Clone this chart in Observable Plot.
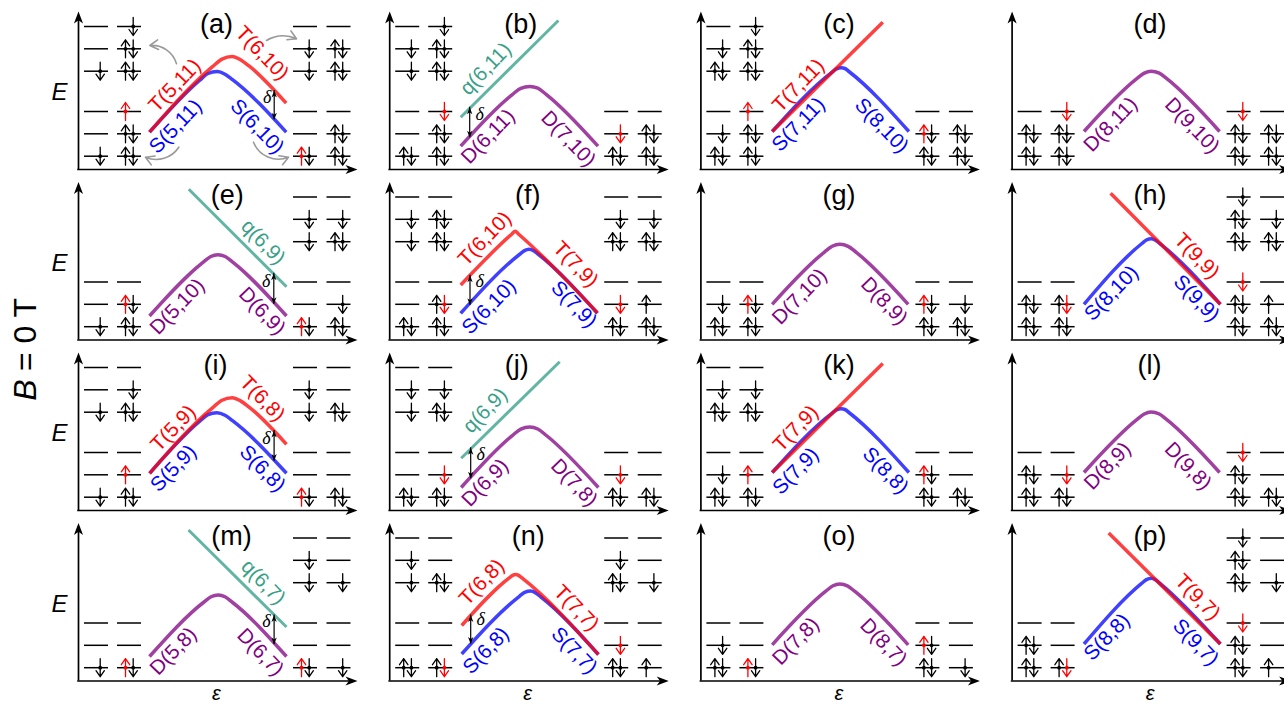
<!DOCTYPE html>
<html><head><meta charset="utf-8">
<script src="https://cdn.jsdelivr.net/npm/d3@7"></script>
<script src="https://cdn.jsdelivr.net/npm/@observablehq/plot@0.6"></script>
<style>html,body{margin:0;background:#fff}svg{display:block}</style>
</head><body><div id="chart"></div>
<script>
const panelNames = ["a","b","c","d","e","f","g","h","i","j","k","l","m","n","o","p"];
const levelE = [143,120.7,98.3,58,35.7,13.3];
const columnEps = [18,51,227,260.5];

// occupation of each dot level: columns left to right, levels top to bottom
// "-" no level, "." empty, u/d black spin, U/D red spin
const occ_a = [". . d . . d","d ud ud U ud ud",". d d . . Ud",". ud ud . ud ud"];
const occ_b = [". d d . . ud","d ud ud D ud ud","- - - . D ud","- - - . ud ud"];
const occ_c = [". d ud . d ud","d ud ud U ud ud","- - - . Ud ud","- - - . ud ud"];
const occ_d = ["- - - . ud ud","- - - D ud ud","- - - D ud ud","- - - . ud ud"];
const occ_e = ["- - - . . d","- - - . Ud ud",". d d . . Ud",". d ud . d ud"];
const occ_f = [". d d . . ud",". ud ud . uD ud",". d ud . D ud",". d ud . u ud"];
const occ_g = ["- - - . d ud","- - - . Ud ud","- - - . Ud ud","- - - . d ud"];
const occ_h = ["- - - . ud ud","- - - . uD ud","d ud ud D ud ud",". d ud . u ud"];
const occ_i = [". . d . . d",". d ud . U ud",". d d . . Ud",". . ud . . ud"];
const occ_j = [". d d . . ud",". d ud . D ud","- - - . D ud","- - - . . ud"];
const occ_k = [". d ud . d ud",". d ud . U ud","- - - . Ud ud","- - - . . ud"];
const occ_l = ["- - - . ud ud","- - - . D ud","- - - D ud ud","- - - . . ud"];
const occ_m = ["- - - . . d","- - - . . Ud",". d d . . Ud",". . d . . d"];
const occ_n = [". d d . . ud",". . ud . . uD",". d ud . D ud",". . d . . u"];
const occ_o = ["- - - . d ud","- - - . . Ud","- - - . Ud ud","- - - . . d"];
const occ_p = ["- - - . ud ud","- - - . . uD","d ud ud D ud ud",". . d . . u"];
const occupancy = [occ_a,occ_b,occ_c,occ_d,occ_e,occ_f,occ_g,occ_h,occ_i,occ_j,occ_k,occ_l,occ_m,occ_n,occ_o,occ_p];

// energy curves: [epsilon, E]
const a_S = [[71,37.3],[121,89],[129.5,96],[138.7,98],[146.5,95.3],[154,89.9],[207.7,37.3]];
const a_T = [[71,37.3],[134,102.8],[143.5,110.4],[153.7,113],[162,109.7],[170.2,103.8],[207.7,66.3]];
const b_D = [[71,23.3],[122.6,74.9],[131.1,81.2],[140,83],[148.1,81.3],[156.7,74.9],[208.3,23.3]];
const b_q = [[71,52.3],[168.7,149]];
const c_S = [[71.3,38],[131.6,97.7],[135.7,100.7],[140.3,101.7],[144,101],[148,98],[208,38]];
const c_T = [[71.3,38],[181.9,147.3]];
const d_D = [[71.9,38],[124.7,90.8],[132.2,96.4],[139,98.3],[147.2,96.4],[154.7,90.8],[207.5,38]];
const e_D = [[71,24],[125.1,78.1],[132.3,83.5],[139.3,85.3],[146.7,83.5],[153.9,78.1],[208,24]];
const e_q = [[110.3,150.7],[208,53.3]];
const f_S = [[71,26.7],[130.3,86],[134.8,89.4],[139.3,90.7],[143.8,89.4],[148.3,86],[207.7,26.7]];
const f_T = [[71,55],[122,105.8],[125.5,108.8],[129,105.8],[207.7,27.3]];
const g_D = [[71.3,35.7],[123.3,87.7],[131.3,93.7],[139,95.7],[147.3,93.7],[155.3,87.7],[207.3,35.7]];
const h_S = [[71.9,35.7],[129.8,96.5],[134.3,100],[139.4,101.3],[143.3,99.8],[147.8,96.4],[208.3,35.7]];
const h_T = [[98.5,146.7],[208.3,35.7]];
const i_S = [[71.1,37.2],[121,89],[129.5,95.8],[138.4,97.8],[146.5,95.2],[154,89.8],[208,37.2]];
const i_T = [[71.1,37.2],[134,102.7],[143.5,110.2],[153.7,112.8],[162,109.6],[170.2,103.7],[208,66.2]];
const j_D = [[71.5,23],[122.6,74.9],[131.1,81.4],[140,83.5],[148.1,81.5],[156.7,75],[208.7,23]];
const j_q = [[71.5,52.2],[170,148.8]];
const k_S = [[71.3,38],[131.6,97.7],[135.7,100.7],[140.3,101.7],[144,101],[148,98],[208,38]];
const k_T = [[71.3,38],[181.9,147]];
const l_D = [[71.9,38],[124.7,90.8],[132.2,96.5],[139,98.5],[147.2,96.5],[154.7,90.8],[207.5,38]];
const m_D = [[71,24.5],[125.5,79],[132.5,84.2],[139.8,86],[146.5,84.2],[153.5,79],[208,24.5]];
const m_q = [[110,151],[208,54]];
const n_S = [[72,27],[129.7,84.7],[135,88.7],[141,90],[145.6,88.3],[151,84.2],[208.7,26.5]];
const n_T = [[72,55.5],[119.9,103.4],[122.9,105.6],[125.8,106.5],[128.9,105.6],[131.9,103.3],[208.7,26.5]];
const o_D = [[71.3,36.2],[124.9,89.8],[132.1,95.2],[139,97],[146.5,95.2],[153.7,89.8],[207.3,36.2]];
const p_S = [[71.9,37],[129.8,97.8],[134.3,101.4],[139.4,102.8],[143.3,101.3],[147.8,97.7],[208.3,37]];
const p_T = [[96.6,148],[208.3,37]];
const curveList = [
  ["a","S",a_S],["a","T",a_T],["b","D",b_D],["b","q",b_q],["c","S",c_S],["c","T",c_T],["d","D",d_D],
  ["e","D",e_D],["e","q",e_q],["f","S",f_S],["f","T",f_T],["g","D",g_D],["h","S",h_S],["h","T",h_T],
  ["i","S",i_S],["i","T",i_T],["j","D",j_D],["j","q",j_q],["k","S",k_S],["k","T",k_T],["l","D",l_D],
  ["m","D",m_D],["m","q",m_q],["n","S",n_S],["n","T",n_T],["o","D",o_D],["p","S",p_S],["p","T",p_T]
];

// state labels: [panel, text, epsilon, E]
const stateLabels = [
  ["a","T(5,11)",96.3,84],["a","S(5,11)",97,43],["a","T(6,10)",183.7,116.3],["a","S(6,10)",178.7,43],
  ["b","q(6,11)",96,100.7],["b","D(6,11)",98.3,33],["b","D(7,10)",178.7,30.7],
  ["c","T(7,11)",97.5,84],["c","S(7,11)",97.5,45],["c","S(8,10)",180.8,44],
  ["d","D(8,11)",98.5,45],["d","D(9,10)",180,44],
  ["e","q(6,9)",184.7,98],["e","D(5,10)",98.7,33.3],["e","D(6,9)",183.7,29],
  ["f","T(6,10)",95,101.3],["f","S(6,10)",99.3,33.3],["f","T(7,9)",186,75.7],["f","S(7,9)",184.3,35.7],
  ["g","D(7,10)",98.6,43.3],["g","D(8,9)",183.4,39],
  ["h","T(9,9)",184.8,84],["h","S(8,10)",99.2,46.7],["h","S(9,9)",184.4,41.7],
  ["i","T(5,9)",94.8,82.2],["i","S(5,9)",94.8,42.2],["i","T(6,8)",184,112],["i","S(6,8)",184,42],
  ["j","q(6,9)",95.4,100],["j","D(6,9)",95.4,27.8],["j","D(7,8)",184.6,27.8],
  ["k","T(7,9)",94.8,82],["k","S(7,9)",94.8,39.5],["k","S(8,8)",184.6,40],
  ["l","D(8,9)",95.4,44.5],["l","D(9,8)",176,44.5],
  ["m","q(6,7)",184.8,98.8],["m","D(5,8)",94.8,29.8],["m","D(6,7)",182,28.8],
  ["n","T(6,8)",92,98.8],["n","S(6,8)",96.3,30.5],["n","T(7,7)",186.7,73],["n","S(7,7)",184.6,30.5],
  ["o","D(7,8)",94.8,39.8],["o","D(8,7)",182.7,38.8],
  ["p","T(9,7)",185.6,83.8],["p","S(8,8)",94.7,43.8],["p","S(9,7)",183.7,38.8]
];

// panel letter position: epsilon of each panel's letter
const letterEps = [138,131,138,138, 148.7,138,138,138, 137,127,138,137.5, 153,138.5,138,138];
const letterE = 145;

// delta gaps: [panel, epsilon, E top, E bottom, text epsilon, text E]
const deltaGaps = [
  ["a",195.7,79,49.7,188.7,72.3],["b",80,62.3,31.7,90,55.7],["e",195.3,66.7,35.7,187.7,59],["f",80.3,64.7,34.7,90,59],
  ["i",195.6,80,49.5,188,72.2],["j",81,62.8,31.8,91,56.2],["m",195.6,66,36.5,188,59.5],["n",81,66,37,91,61.5]
];

// grey curved arrows in panel (a): [eps1, E1, eps2, E2, bend]
const greyArrows = [[98,105.7,71.3,124,-40],[188,129,218,130.7,28],[100.3,22.3,67,12.3,40],[175,27.3,210,12.3,-45]];

const colours = {T:"#ff0000",S:"#0000ff",D:"#800080",q:"#3a9f88"};
const lineColours = {T:"#ff0000",S:"#0000ff",D:"#800080",q:"#2f9c84"};
const axisTop = 158, axisRight = 279;

const place = p => { const i = panelNames.indexOf(p); return {col:i%4,row:Math.floor(i/4)}; };
const allPanels = panelNames.map(p=>({panel:p,...place(p)}));

const levels=[], spins=[];
occupancy.forEach((panel,pi)=>{
  const col=pi%4,row=Math.floor(pi/4);
  panel.forEach((str,c)=>str.split(" ").forEach((tok,l)=>{
    if(tok==="-")return;
    levels.push({col,row,e:columnEps[c],E:levelE[l]});
    if(tok===".")return;
    for(const ch of tok){
      const up=ch==="u"||ch==="U", red=ch==="U"||ch==="D";
      spins.push({col,row,red,up,e:columnEps[c]+(up?-4:3.7),E:levelE[l]});
    }
  }));
});
const curveRows=[];
curveList.forEach(([p,k,pts])=>pts.forEach(([e,E])=>curveRows.push({...place(p),id:p+k,kind:k,e,E})));
const labelRows=stateLabels.map(([p,t,e,E])=>({...place(p),t,e,E,kind:t[0],rot:e<138?-46:46}));
const deltaRows=deltaGaps.map(([p,e,top,bot,te,tE])=>({...place(p),e,top,bot,te,tE}));
const letterRows=allPanels.map((d,i)=>({...d,t:`(${d.panel})`,e:letterEps[i]}));
const greyRows=greyArrows.map(([e1,E1,e2,E2,bend])=>({col:0,row:0,e1,E1,e2,E2,bend}));
const col0=allPanels.filter(d=>d.col===0), row3=allPanels.filter(d=>d.row===3);

const stealth = {draw(ctx,l){const w=l*0.38;ctx.moveTo(0,-l);ctx.lineTo(w,0);ctx.lineTo(0,-l*0.28);ctx.lineTo(-w,0);ctx.closePath();}};
const spinArrow = {draw(ctx,l){ctx.moveTo(0,0);ctx.lineTo(0,-l);ctx.moveTo(-4.2,-l+6);ctx.lineTo(0,-l);ctx.lineTo(4.2,-l+6);}};
const face=(k,o)=>({fx:"col",fy:"row",...o});

const lineMark=k=>Plot.line(curveRows.filter(d=>d.kind===k),face(k,{x:"e",y:"E",z:"id",stroke:lineColours[k],strokeOpacity:0.75,
  strokeWidth:k==="q"?3:3.5,curve:"monotone-x",strokeLinecap:"butt",strokeLinejoin:"round"}));
const labelMark=k=>Plot.text(labelRows.filter(d=>d.kind===k),face(k,{x:"e",y:"E",text:"t",rotate:"rot",fill:colours[k],fontSize:20.5}));
const spinMarks=(red)=>{
  const s=spins.filter(d=>d.red===red), c=red?"#ff0000":"#000";
  return [
    Plot.vector(s,face(0,{x:"e",y:"E",rotate:d=>d.up?0:180,length:18,shape:spinArrow,anchor:"middle",stroke:c,strokeWidth:1.3})),
    Plot.dot(s,face(0,{x:"e",y:"E",r:1.9,fill:c,stroke:"none"}))
  ];
};

const chart=Plot.plot({
  width:1284,height:704,margin:0,
  style:{fontFamily:"'Liberation Sans',Arial,sans-serif",background:"#fff",overflow:"hidden"},
  fx:{domain:[0,1,2,3],range:[0,1244.8],padding:0,round:false,axis:null},
  fy:{domain:[0,1,2,3],range:[0,682],padding:0,round:false,axis:null},
  x:{domain:[-78,233.2],axis:null},
  y:{domain:[-1.5,169],axis:null},
  marks:[
    // axes
    Plot.ruleX(allPanels,face(0,{x:()=>0,y1:()=>0,y2:()=>axisTop-6,stroke:"#000",strokeWidth:1.7})),
    Plot.ruleY(allPanels,face(0,{y:()=>0,x1:()=>-0.8,x2:()=>axisRight-6,stroke:"#000",strokeWidth:1.7})),
    Plot.vector(allPanels,face(0,{x:()=>0,y:()=>axisTop,rotate:0,length:12,shape:stealth,anchor:"end",fill:"#000",stroke:"none"})),
    Plot.vector(allPanels,face(0,{x:()=>axisRight,y:()=>0,rotate:90,length:12,shape:stealth,anchor:"end",fill:"#000",stroke:"none"})),
    // levels
    Plot.ruleY(levels,face(0,{y:"E",x1:d=>d.e-12,x2:d=>d.e+12,stroke:"#000",strokeWidth:1.5})),
    ...spinMarks(false),...spinMarks(true),
    // curves
    lineMark("q"),lineMark("D"),lineMark("S"),lineMark("T"),
    // delta
    Plot.ruleX(deltaRows,face(0,{x:"e",y1:"bot",y2:"top",stroke:"#000",strokeWidth:1.2})),
    Plot.vector(deltaRows,face(0,{x:"e",y:"top",rotate:0,length:7,shape:stealth,anchor:"end",fill:"#000",stroke:"none"})),
    Plot.vector(deltaRows,face(0,{x:"e",y:"bot",rotate:180,length:7,shape:stealth,anchor:"end",fill:"#000",stroke:"none"})),
    Plot.text(deltaRows,face(0,{x:"te",y:"tE",text:()=>"δ",fontFamily:"Liberation Serif",fontStyle:"italic",fontSize:18,fill:"#000"})),
    // labels
    labelMark("T"),labelMark("S"),labelMark("D"),labelMark("q"),
    Plot.text(letterRows,face(0,{x:"e",y:()=>letterE,text:"t",fontSize:27,fill:"#000"})),
    Plot.text(col0,face(0,{x:()=>-19,y:()=>77,text:()=>"E",fontSize:24,fontStyle:"italic",fill:"#000"})),
    Plot.text(row3,face(0,{x:()=>138,y:()=>-12.8,text:()=>"ε",fontSize:20,fontStyle:"italic",fill:"#000"})),
    Plot.text([{col:0,row:1}],face(0,{x:()=>-53,y:()=>-50,rotate:-90,text:()=>"B",fontSize:32,fontStyle:"italic",fill:"#000"})),
    Plot.text([{col:0,row:1}],face(0,{x:()=>-53,y:()=>5.5,rotate:-90,text:()=>"= 0 T",fontSize:32,fill:"#000"})),
    // grey transfer arrows
    ...greyRows.map(g=>Plot.arrow([g],face(0,{x1:"e1",y1:"E1",x2:"e2",y2:"E2",bend:g.bend,stroke:"#9a9a9a",strokeWidth:1.6,headLength:9,headAngle:60})))
  ]
});
document.getElementById("chart").append(chart);
</script></body></html>
